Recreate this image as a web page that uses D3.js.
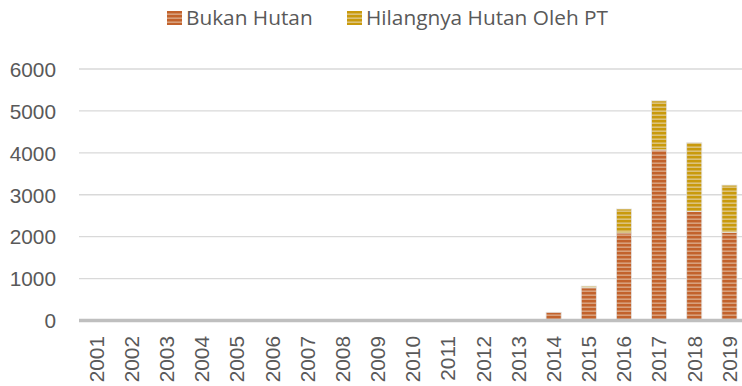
<!DOCTYPE html>
<html>
<head>
<meta charset="utf-8">
<script src="https://cdn.jsdelivr.net/npm/d3@7"></script>
<style>
  html, body { margin: 0; padding: 0; background: #fff; }
  svg { display: block; font-family: "Open Sans", "Noto Sans", sans-serif; }
</style>
</head>
<body>
<svg id="chart" width="742" height="386"></svg>
<script>
// Tahun pengamatan
const years = ["2001","2002","2003","2004","2005","2006","2007","2008","2009","2010",
               "2011","2012","2013","2014","2015","2016","2017","2018","2019"];
// Luas (ha) per kategori
const bukanHutan = [0,0,0,0,0,0,0,0,0,0,0,0,0,195,780,2090,4070,2600,2100];
const hilangnyaHutanPT = [0,0,0,0,0,0,0,0,0,0,0,0,0,0,40,570,1170,1640,1130];
const seriesNames = ["Bukan Hutan", "Hilangnya Hutan Oleh PT"];
const yTicks = [0,1000,2000,3000,4000,5000,6000];

const svg = d3.select("#chart");
const margin = { left: 79, right: -5, top: 69, bottom: 66 };
const W = 742, H = 386;
const fontSize = "20.8px";

// Striped fills
const defs = svg.append("defs");
const fills = [
  { id: "pBukan", dark: "#c2622c", light: "#d8a07c" },
  { id: "pHilang", dark: "#c99a0c", light: "#dcc27a" }
];
fills.forEach(f => {
  const p = defs.append("pattern")
    .attr("id", f.id).attr("patternUnits", "userSpaceOnUse")
    .attr("width", 8).attr("height", 4);
  p.append("rect").attr("width", 8).attr("height", 4).attr("fill", f.light);
  p.append("rect").attr("width", 8).attr("height", 2.4).attr("fill", f.dark);
});

const x = d3.scaleBand().domain(years)
  .range([margin.left, W - margin.right])
  .paddingInner(0.57).paddingOuter(0.285);
const y = d3.scaleLinear().domain([0, 6000]).range([320.5, 69]);

// Gridlines
svg.append("g").selectAll("line").data(yTicks.filter(d => d > 0)).join("line")
  .attr("x1", margin.left).attr("x2", W)
  .attr("y1", d => y(d)).attr("y2", d => y(d))
  .attr("stroke", "#d9d9d9").attr("stroke-width", 1.3);

// Y axis labels
const yAxis = d3.axisLeft(y).tickValues(yTicks).tickSize(0).tickPadding(0)
  .tickFormat(d3.format("d"));
const gy = svg.append("g").attr("transform", "translate(56,0)").call(yAxis);
gy.select(".domain").remove();
gy.selectAll("text").attr("fill", "#595959").style("font-size", fontSize)
  .attr("dy", "0.35em");

// Stacked bars
const rows = years.map((yr, i) => ({ year: yr, a: bukanHutan[i], b: hilangnyaHutanPT[i] }));
const stack = d3.stack().keys(["a", "b"])(rows);
const fillIds = ["url(#pBukan)", "url(#pHilang)"];
svg.append("g").selectAll("g").data(stack).join("g")
  .attr("fill", (d, i) => fillIds[i])
  .selectAll("rect").data(d => d.filter(v => v[1] - v[0] > 0)).join("rect")
  .attr("x", d => x(d.data.year))
  .attr("width", x.bandwidth())
  .attr("y", d => y(d[1]))
  .attr("height", d => y(d[0]) - y(d[1]))
  .attr("stroke", "#e3e3e3").attr("stroke-width", 0.8);

// Baseline
svg.append("line")
  .attr("x1", margin.left).attr("x2", W)
  .attr("y1", y(0)).attr("y2", y(0))
  .attr("stroke", "#bfbfbf").attr("stroke-width", 3.5);

// X axis labels (rotated)
const xAxis = d3.axisBottom(x).tickSize(0).tickPadding(0);
const gx = svg.append("g").attr("transform", "translate(0,336)").call(xAxis);
gx.select(".domain").remove();
gx.selectAll("text")
  .attr("fill", "#595959").style("font-size", fontSize)
  .attr("transform", "rotate(-90)")
  .attr("text-anchor", "end")
  .attr("x", 0).attr("y", 0).attr("dy", "0.35em");

// Legend
const legendItems = [
  { name: seriesNames[0], fill: fillIds[0], x: 167 },
  { name: seriesNames[1], fill: fillIds[1], x: 347 }
];
const lg = svg.append("g").selectAll("g").data(legendItems).join("g")
  .attr("transform", d => `translate(${d.x},11)`);
lg.append("rect").attr("width", 15).attr("height", 14)
  .attr("fill", d => d.fill);
lg.append("text").attr("x", 19).attr("y", 7).attr("dy", "0.35em")
  .attr("fill", "#595959").style("font-size", fontSize)
  .text(d => d.name);
</script>
</body>
</html>
